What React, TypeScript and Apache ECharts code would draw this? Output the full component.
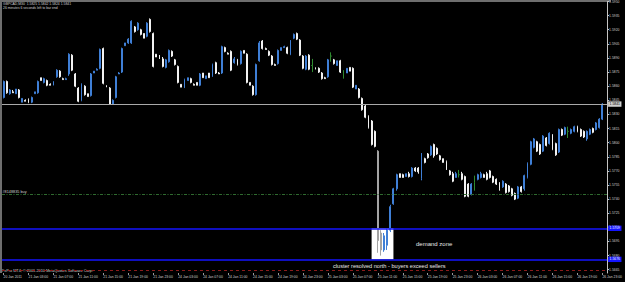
import React, { useEffect, useRef } from "react";
import * as echarts from "echarts";

const headerText = "GBPCAD,M30  1.5825 1.5842 1.5824 1.5841";
const timerText = "26 minutes 6 seconds left to bar end";
const copyrightText = "FxPro MT4, \u00a9 2001-2010 MetaQuotes Software Corp.";
const orderLabel = "#8148835 buy";
const zoneText = "demand zone";
const noteText = "cluster resolved north - buyers exceed sellers";

const xTickLabels = [
  "20 Jan 2011", "21 Jan 03:00", "21 Jan 07:00", "21 Jan 11:00", "21 Jan 15:00",
  "21 Jan 19:00", "21 Jan 23:00", "24 Jan 03:00", "24 Jan 07:00", "24 Jan 11:00",
  "24 Jan 15:00", "24 Jan 19:00", "24 Jan 23:00", "25 Jan 03:00", "25 Jan 07:00",
  "25 Jan 11:00", "25 Jan 15:00", "25 Jan 19:00", "25 Jan 23:00", "26 Jan 03:00",
  "26 Jan 07:00", "26 Jan 11:00", "26 Jan 15:00", "26 Jan 19:00", "26 Jan 23:00",
];

const yTicks = [
  1.5950, 1.5935, 1.5920, 1.5905, 1.5890, 1.5875, 1.5860, 1.5845, 1.5830, 1.5815,
  1.5800, 1.5785, 1.5770, 1.5755, 1.5740, 1.5725, 1.5710, 1.5695, 1.5680, 1.5665,
];

const opens = [
  1.5848,1.5865,1.5852,1.5854,1.5852,1.5856,1.5843,1.5845,1.5846,1.5843,
  1.5852,1.5853,1.5869,1.5864,1.5866,1.5862,1.5861,1.5870,1.5876,1.5868,
  1.5867,1.5873,1.5893,1.5873,1.5858,1.5845,1.5860,1.5852,1.5850,1.5874,
  1.5877,1.5879,1.5900,1.5860,1.5858,1.5841,1.5848,1.5873,1.5875,1.5903,
  1.5906,1.5906,1.5923,1.5920,1.5920,1.5916,1.5913,1.5931,1.5916,1.5894,
  1.5893,1.5889,1.5880,1.5886,1.5897,1.5888,1.5881,1.5862,1.5859,1.5866,
  1.5868,1.5862,1.5864,1.5861,1.5874,1.5868,1.5874,1.5871,1.5885,1.5874,
  1.5874,1.5901,1.5895,1.5897,1.5885,1.5888,1.5884,1.5898,1.5894,1.5864,
  1.5860,1.5851,1.5887,1.5908,1.5900,1.5897,1.5892,1.5883,1.5884,1.5898,
  1.5901,1.5901,1.5894,1.5911,1.5916,1.5909,1.5892,1.5878,1.5893,1.5882,
  1.5879,1.5879,1.5874,1.5869,1.5870,1.5892,1.5888,1.5882,1.5887,1.5873,
  1.5874,1.5880,1.5879,1.5857,1.5857,1.5847,1.5839,1.5828,1.5823,1.5812,
  1.5791,1.5704,1.5686,1.5691,1.5707,1.5735,1.5751,1.5767,1.5766,1.5764,
  1.5767,1.5764,1.5773,1.5773,1.5762,1.5783,1.5788,1.5787,1.5798,1.5794,
  1.5786,1.5783,1.5780,1.5770,1.5767,1.5763,1.5766,1.5767,1.5764,1.5756,
  1.5745,1.5758,1.5761,1.5763,1.5766,1.5767,1.5770,1.5764,1.5761,1.5757,
  1.5753,1.5756,1.5754,1.5751,1.5746,1.5741,1.5753,1.5751,1.5763,1.5777,
  1.5795,1.5801,1.5798,1.5791,1.5805,1.5799,1.5808,1.5799,1.5790,1.5814,
  1.5809,1.5812,1.5810,1.5812,1.5817,1.5814,1.5812,1.5804,1.5809,1.5815,
  1.5814,1.5816,1.5825,
];
const highs = [
  1.5866,1.5866,1.5857,1.5856,1.5857,1.5857,1.5847,1.5846,1.5847,1.5849,
  1.5854,1.5866,1.5869,1.5869,1.5867,1.5863,1.5865,1.5878,1.5877,1.5869,
  1.5869,1.5895,1.5894,1.5874,1.5859,1.5863,1.5861,1.5852,1.5874,1.5876,
  1.5879,1.5900,1.5901,1.5861,1.5859,1.5846,1.5871,1.5875,1.5901,1.5906,
  1.5911,1.5930,1.5924,1.5928,1.5921,1.5916,1.5928,1.5932,1.5917,1.5894,
  1.5893,1.5891,1.5889,1.5899,1.5898,1.5889,1.5882,1.5862,1.5868,1.5869,
  1.5869,1.5863,1.5864,1.5874,1.5874,1.5871,1.5874,1.5884,1.5886,1.5875,
  1.5903,1.5902,1.5896,1.5898,1.5891,1.5889,1.5898,1.5898,1.5895,1.5864,
  1.5861,1.5884,1.5908,1.5909,1.5901,1.5898,1.5893,1.5884,1.5899,1.5901,
  1.5903,1.5902,1.5909,1.5916,1.5917,1.5910,1.5893,1.5893,1.5894,1.5889,
  1.5880,1.5880,1.5875,1.5870,1.5889,1.5896,1.5889,1.5887,1.5888,1.5877,
  1.5879,1.5880,1.5880,1.5861,1.5858,1.5848,1.5840,1.5829,1.5824,1.5813,
  1.5792,1.5707,1.5704,1.5709,1.5734,1.5752,1.5767,1.5767,1.5767,1.5767,
  1.5769,1.5774,1.5774,1.5774,1.5789,1.5784,1.5789,1.5797,1.5799,1.5795,
  1.5787,1.5783,1.5781,1.5771,1.5769,1.5769,1.5771,1.5769,1.5765,1.5757,
  1.5757,1.5765,1.5767,1.5769,1.5767,1.5769,1.5771,1.5765,1.5762,1.5758,
  1.5760,1.5757,1.5755,1.5752,1.5747,1.5754,1.5754,1.5766,1.5779,1.5802,
  1.5805,1.5802,1.5799,1.5808,1.5806,1.5811,1.5809,1.5800,1.5815,1.5815,
  1.5817,1.5817,1.5815,1.5818,1.5818,1.5815,1.5813,1.5813,1.5815,1.5816,
  1.5822,1.5826,1.5842,
];
const lows = [
  1.5847,1.5852,1.5851,1.5853,1.5852,1.5847,1.5843,1.5844,1.5842,1.5842,
  1.5852,1.5852,1.5866,1.5863,1.5860,1.5861,1.5861,1.5869,1.5869,1.5867,
  1.5867,1.5871,1.5876,1.5859,1.5843,1.5844,1.5850,1.5849,1.5849,1.5874,
  1.5877,1.5878,1.5862,1.5859,1.5840,1.5840,1.5847,1.5873,1.5874,1.5903,
  1.5905,1.5905,1.5917,1.5919,1.5914,1.5911,1.5912,1.5917,1.5880,1.5891,
  1.5889,1.5880,1.5879,1.5885,1.5891,1.5882,1.5863,1.5859,1.5858,1.5866,
  1.5863,1.5861,1.5861,1.5860,1.5869,1.5868,1.5869,1.5870,1.5873,1.5873,
  1.5873,1.5896,1.5894,1.5876,1.5884,1.5882,1.5883,1.5895,1.5863,1.5861,
  1.5850,1.5850,1.5886,1.5899,1.5899,1.5892,1.5882,1.5882,1.5883,1.5898,
  1.5901,1.5894,1.5893,1.5910,1.5909,1.5892,1.5878,1.5877,1.5877,1.5875,
  1.5878,1.5874,1.5867,1.5868,1.5869,1.5886,1.5883,1.5882,1.5874,1.5868,
  1.5874,1.5876,1.5858,1.5857,1.5847,1.5834,1.5826,1.5815,1.5797,1.5795,
  1.5683,1.5680,1.5684,1.5686,1.5705,1.5734,1.5749,1.5763,1.5763,1.5764,
  1.5763,1.5763,1.5769,1.5767,1.5760,1.5778,1.5783,1.5786,1.5784,1.5787,
  1.5781,1.5779,1.5771,1.5765,1.5758,1.5763,1.5763,1.5760,1.5742,1.5742,
  1.5744,1.5749,1.5760,1.5762,1.5763,1.5760,1.5762,1.5757,1.5755,1.5749,
  1.5752,1.5746,1.5747,1.5743,1.5739,1.5740,1.5747,1.5749,1.5762,1.5776,
  1.5794,1.5790,1.5787,1.5790,1.5796,1.5798,1.5792,1.5786,1.5789,1.5807,
  1.5808,1.5805,1.5809,1.5811,1.5811,1.5806,1.5805,1.5802,1.5808,1.5810,
  1.5813,1.5815,1.5824,
];
const closes = [
  1.5865,1.5853,1.5856,1.5853,1.5857,1.5848,1.5847,1.5844,1.5843,1.5848,
  1.5854,1.5865,1.5866,1.5868,1.5861,1.5861,1.5865,1.5877,1.5870,1.5867,
  1.5868,1.5894,1.5877,1.5860,1.5844,1.5862,1.5851,1.5849,1.5873,1.5876,
  1.5878,1.5899,1.5863,1.5859,1.5841,1.5845,1.5870,1.5874,1.5900,1.5906,
  1.5910,1.5929,1.5918,1.5927,1.5915,1.5911,1.5927,1.5918,1.5881,1.5891,
  1.5889,1.5881,1.5888,1.5898,1.5892,1.5883,1.5864,1.5859,1.5867,1.5869,
  1.5864,1.5861,1.5861,1.5873,1.5869,1.5871,1.5869,1.5883,1.5874,1.5873,
  1.5902,1.5897,1.5894,1.5877,1.5889,1.5883,1.5897,1.5895,1.5864,1.5861,
  1.5851,1.5883,1.5906,1.5900,1.5899,1.5893,1.5883,1.5882,1.5898,1.5901,
  1.5902,1.5895,1.5908,1.5915,1.5910,1.5893,1.5879,1.5892,1.5878,1.5882,
  1.5878,1.5875,1.5868,1.5868,1.5888,1.5892,1.5884,1.5887,1.5875,1.5873,
  1.5879,1.5876,1.5859,1.5861,1.5848,1.5835,1.5827,1.5816,1.5798,1.5796,
  1.5696,1.5686,1.5701,1.5707,1.5732,1.5751,1.5766,1.5763,1.5763,1.5767,
  1.5764,1.5773,1.5770,1.5769,1.5788,1.5779,1.5784,1.5796,1.5786,1.5788,
  1.5782,1.5779,1.5772,1.5766,1.5759,1.5767,1.5766,1.5761,1.5743,1.5743,
  1.5756,1.5758,1.5766,1.5767,1.5763,1.5761,1.5763,1.5758,1.5756,1.5751,
  1.5759,1.5747,1.5748,1.5744,1.5740,1.5753,1.5748,1.5765,1.5778,1.5801,
  1.5804,1.5791,1.5788,1.5807,1.5797,1.5810,1.5793,1.5787,1.5814,1.5808,
  1.5816,1.5812,1.5814,1.5817,1.5812,1.5807,1.5806,1.5812,1.5814,1.5811,
  1.5821,1.5825,1.5841,
];

const bidPrice = 1.5841;
const zoneTop = 1.5709;
const zoneBottom = 1.5676;
const orderPrice = 1.5745;
const stopPrice = 1.5664;
const zoneStartBar = 118;
const zoneEndBar = 125;

const UP = "#3f7fd6";
const DOWN = "#f2f2f2";
const DOWN_IN_ZONE = "#a4a4a4";
const DOJI = "#2f8a2f";
const ZONE_BLUE = "#1414ff";
const TXT = "#cfcfcf";
const FONT = "'Liberation Sans', Arial, sans-serif";

// Bar open times (M30), weekend skipped
const barTimes: string[] = (() => {
  const out: string[] = [];
  let t = Date.UTC(2011, 0, 20, 23, 0);
  const pad = (n: number) => (n < 10 ? "0" + n : "" + n);
  for (let i = 0; i < opens.length; i++) {
    const d = new Date(t);
    out.push(
      `${d.getUTCFullYear()}.${pad(d.getUTCMonth() + 1)}.${pad(d.getUTCDate())} ${pad(d.getUTCHours())}:${pad(d.getUTCMinutes())}`
    );
    t += 30 * 60 * 1000;
    const n = new Date(t);
    if (n.getUTCDay() === 6) t += 48 * 3600 * 1000;
  }
  return out;
})();

export default function App() {
  const ref = useRef<HTMLDivElement>(null);

  useEffect(() => {
    if (!ref.current) return;
    const chart = echarts.init(ref.current, undefined, { renderer: "svg" });

    const candleData = opens.map((o, i) => {
      const c = closes[i];
      const l = lows[i];
      const item: any = { value: [o, c, l, highs[i]] };
      if (o === c) {
        item.itemStyle = { color: DOJI, color0: DOJI, borderColor: DOJI, borderColor0: DOJI };
      } else if (c < o && i >= zoneStartBar && i <= zoneEndBar && l < zoneTop) {
        // bear candles reaching into the white zone box are drawn grey so they stay visible
        item.itemStyle = { color0: DOWN_IN_ZONE, borderColor0: DOWN_IN_ZONE };
      }
      return item;
    });

    const isTick = (i: number) => i % 8 === 0;

    const priceTag = (v: number, bg: string, fg: string) => ({
      show: true,
      position: "end",
      distance: 1,
      formatter: v.toFixed(4),
      color: fg,
      backgroundColor: bg,
      fontSize: 3.4,
      fontFamily: FONT,
      padding: [1.2, 1.5],
    });

    const option: any = {
      animation: false,
      backgroundColor: "#000000",
      grid: { left: 2, right: 14, top: 1, bottom: 9, containLabel: false },
      xAxis: {
        type: "category",
        data: barTimes,
        boundaryGap: true,
        max: opens.length,
        axisLine: { show: false },
        axisTick: {
          show: true,
          interval: (i: number) => isTick(i),
          alignWithLabel: true,
          length: 2,
          lineStyle: { color: "#9a9a9a" },
        },
        axisLabel: {
          interval: (i: number) => isTick(i),
          formatter: (v: string) => {
            const idx = barTimes.indexOf(v);
            return idx >= 0 && idx % 8 === 0 ? xTickLabels[idx / 8] : "";
          },
          color: TXT,
          fontSize: 3.4,
          fontFamily: FONT,
          align: "left",
          margin: 2,
        },
        splitLine: { show: false },
      },
      yAxis: {
        type: "value",
        position: "right",
        min: 1.56615,
        max: 1.595,
        scale: true,
        splitLine: { show: false },
        axisLine: { show: true, lineStyle: { color: "#c4c4c4", width: 1 } },
        axisTick: { show: true, customValues: yTicks, length: 2, lineStyle: { color: "#c4c4c4" } },
        axisLabel: {
          customValues: yTicks,
          formatter: (v: number) => v.toFixed(4),
          color: TXT,
          fontSize: 3.4,
          fontFamily: FONT,
          margin: 2,
        },
      },
      series: [
        {
          type: "candlestick",
          data: candleData,
          barWidth: 1.4,
          itemStyle: {
            color: UP,
            color0: DOWN,
            borderColor: UP,
            borderColor0: DOWN,
            borderWidth: 1,
          },
          markArea: {
            silent: true,
            itemStyle: { color: "#ffffff", opacity: 1 },
            data: [
              [
                { xAxis: barTimes[zoneStartBar], yAxis: zoneTop },
                { xAxis: barTimes[zoneEndBar], yAxis: zoneBottom },
              ],
            ],
          },
          markLine: {
            silent: true,
            symbol: "none",
            precision: 4,
            animation: false,
            data: [
              {
                yAxis: bidPrice,
                lineStyle: { color: "#a9a9a9", width: 1, type: "solid" },
                label: priceTag(bidPrice, "#cfcfcf", "#000000"),
              },
              {
                yAxis: zoneTop,
                lineStyle: { color: ZONE_BLUE, width: 1.5, type: "solid" },
                label: priceTag(zoneTop, ZONE_BLUE, "#ffffff"),
              },
              {
                yAxis: zoneBottom,
                lineStyle: { color: ZONE_BLUE, width: 1.5, type: "solid" },
                label: priceTag(zoneBottom, ZONE_BLUE, "#ffffff"),
              },
              {
                yAxis: orderPrice,
                lineStyle: { color: "#2f6a2f", width: 1, type: [3, 1.5, 1, 1.5] },
                label: {
                  show: true,
                  position: "insideStartTop",
                  distance: 0.5,
                  formatter: orderLabel,
                  color: TXT,
                  fontSize: 3.8,
                  fontFamily: FONT,
                },
              },
              {
                yAxis: stopPrice,
                lineStyle: { color: "#8a1c1c", width: 1, type: [3, 3] },
                label: { show: false },
              },
            ],
          },
        },
      ],
      graphic: [
        { type: "line", shape: { x1: 0, y1: 1, x2: 611, y2: 1 }, style: { stroke: "#6e6e6e", lineWidth: 2 }, silent: true },
        { type: "line", shape: { x1: 1, y1: 0, x2: 1, y2: 273 }, style: { stroke: "#6e6e6e", lineWidth: 2 }, silent: true },
        {
          type: "text", left: 3, top: 2, silent: true,
          style: { text: headerText, fill: TXT, fontSize: 3.4, fontFamily: FONT },
        },
        {
          type: "text", left: 3, top: 6.5, silent: true,
          style: { text: timerText, fill: TXT, fontSize: 3.4, fontFamily: FONT },
        },
        {
          type: "text", left: 2, top: 268.5, silent: true,
          style: { text: copyrightText, fill: TXT, fontSize: 3.8, fontFamily: FONT },
        },
        {
          type: "text", left: 416, top: 240.5, silent: true,
          style: { text: zoneText, fill: "#e6e6e6", fontSize: 6, fontFamily: FONT },
        },
        {
          type: "text", left: 333, top: 262.5, silent: true,
          style: { text: noteText, fill: "#e6e6e6", fontSize: 5.6, fontFamily: FONT },
        },
      ],
    };

    chart.setOption(option);
    return () => chart.dispose();
  }, []);

  return (
    <div
      ref={ref}
      style={{ position: "fixed", left: 0, top: 0, width: 625, height: 282, background: "#000" }}
    />
  );
}
